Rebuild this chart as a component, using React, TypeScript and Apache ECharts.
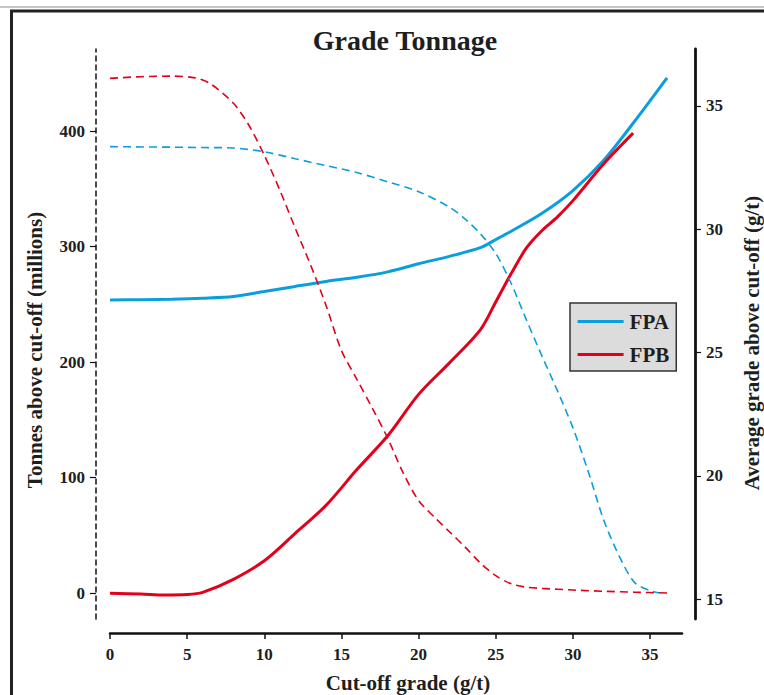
import React, { useEffect, useRef } from "react";
import * as echarts from "echarts";

// Cut-off grade (g/t) -> average grade above cut-off (g/t)
const fpaGradeX = [0, 2, 4, 6, 8, 10, 12, 14, 16, 18, 20, 22, 24, 25, 26, 28, 30, 32, 34, 36.1];
const fpaGrade = [27.13, 27.14, 27.16, 27.2, 27.27, 27.47, 27.68, 27.88, 28.05, 28.27, 28.6, 28.9, 29.25, 29.58, 29.92, 30.65, 31.57, 32.8, 34.38, 36.14];

const fpbGradeX = [0, 2, 3.5, 5, 6, 8, 10, 12, 14, 16, 18, 20, 22, 24, 25, 26, 27, 28, 29, 30, 32, 33.9];
const fpbGrade = [15.23, 15.2, 15.16, 15.18, 15.27, 15.8, 16.55, 17.66, 18.8, 20.25, 21.62, 23.3, 24.58, 25.92, 27.05, 28.2, 29.25, 29.95, 30.5, 31.16, 32.66, 33.9];

// Cut-off grade (g/t) -> tonnes above cut-off (millions)
const fpaTonnesX = [0, 2, 4, 6, 8, 10, 12, 14, 16, 18, 20, 22, 23, 24, 25, 26, 27, 28, 29, 30, 31, 32, 33, 34, 35, 35.6];
const fpaTonnes = [386.5, 386.2, 386, 385.7, 385.3, 382, 376, 370, 364, 356, 347.5, 334, 324, 311, 294, 268, 236, 205, 175, 143, 105, 63, 32, 9, 2, 0];

const fpbTonnesX = [0, 2, 4, 5.5, 6.5, 8, 9, 10, 11, 12, 13, 14, 15, 16, 17, 18, 19, 20, 21, 22, 23, 24, 25, 26, 27, 28, 30, 32, 34, 36.1];
const fpbTonnes = [445.6, 447, 447.5, 446, 441, 424, 405, 379, 349, 316, 284, 249, 210, 185, 160, 134, 104, 80, 66, 53, 40, 26, 15, 8, 5, 4, 2.6, 1.5, 0.7, 0];

const xTicks = [0, 5, 10, 15, 20, 25, 30, 35];
const tonnesTicks = [0, 100, 200, 300, 400];
const gradeTicks = [15, 20, 25, 30, 35];

const BLUE = "#0a9fdc";
const RED = "#e3001b";
const INK = "#1e1e1e";
const FONT = "'Liberation Serif', 'Times New Roman', serif";

const pairs = (xs: number[], ys: number[]) => xs.map((x, i) => [x, ys[i]]);

export default function App() {
  const ref = useRef<HTMLDivElement>(null);

  useEffect(() => {
    if (!ref.current) return;
    const chart = echarts.init(ref.current, null, { renderer: "svg" });
    const labelStyle = {
      fontFamily: FONT,
      fontWeight: "bold" as const,
      fontSize: 17,
      color: INK,
    };
    const option: any = {
      animation: false,
      backgroundColor: "#ffffff",
      grid: { left: 110, right: 82, top: 49, bottom: 76, containLabel: false },
      legend: {
        orient: "vertical",
        left: 570,
        top: 303,
        data: ["FPA", "FPB"],
        itemWidth: 46,
        itemHeight: 21,
        itemGap: 12,
        padding: [8, 7, 6, 6],
        backgroundColor: "#dcdcdc",
        borderColor: "#333333",
        borderWidth: 1.5,
        borderRadius: 0,
        itemStyle: { color: "rgba(0,0,0,0)", borderWidth: 0, opacity: 0 },
        lineStyle: { width: 3.2 },
        textStyle: { fontFamily: FONT, fontWeight: "bold", fontSize: 21, color: INK, padding: [0, 0, 0, 1] },
      },
      xAxis: {
        type: "value",
        min: 0,
        max: 37.07,
        offset: 14,
        axisLine: { show: true, onZero: false, lineStyle: { color: "#111", width: 2.5 } },
        axisTick: { show: true, length: 6, customValues: xTicks, lineStyle: { color: "#111", width: 1.5 } },
        axisLabel: { ...labelStyle, margin: 13, customValues: xTicks },
        splitLine: { show: false },
      },
      yAxis: [
        {
          type: "value",
          position: "left",
          offset: 14,
          min: -22.5,
          max: 471,
          axisLine: { show: true, onZero: false, lineStyle: { color: "#111", width: 1.5, type: [5, 4] } },
          axisTick: { show: true, length: 6, customValues: tonnesTicks, lineStyle: { color: "#111", width: 1.2 } },
          axisLabel: { ...labelStyle, margin: 11, customValues: tonnesTicks },
          splitLine: { show: false },
        },
        {
          type: "value",
          position: "right",
          offset: 13,
          min: 14.19,
          max: 37.31,
          axisLine: { show: true, onZero: false, lineStyle: { color: "#111", width: 2.8 } },
          axisTick: { show: true, length: 6, customValues: gradeTicks, lineStyle: { color: "#111", width: 1.2 } },
          axisLabel: { ...labelStyle, margin: 11, customValues: gradeTicks },
          splitLine: { show: false },
        },
      ],
      series: [
        {
          name: "FPA",
          type: "line",
          yAxisIndex: 1,
          data: pairs(fpaGradeX, fpaGrade),
          symbol: "none",
          smooth: 0.3,
          lineStyle: { color: BLUE, width: 3 },
          itemStyle: { color: BLUE },
        },
        {
          name: "FPB",
          type: "line",
          yAxisIndex: 1,
          data: pairs(fpbGradeX, fpbGrade),
          symbol: "none",
          smooth: 0.3,
          lineStyle: { color: RED, width: 3 },
          itemStyle: { color: RED },
        },
        {
          name: "FPA tonnes",
          type: "line",
          yAxisIndex: 0,
          data: pairs(fpaTonnesX, fpaTonnes),
          symbol: "none",
          smooth: 0.3,
          lineStyle: { color: BLUE, width: 1.6, type: [8, 5] },
          itemStyle: { color: BLUE },
        },
        {
          name: "FPB tonnes",
          type: "line",
          yAxisIndex: 0,
          data: pairs(fpbTonnesX, fpbTonnes),
          symbol: "none",
          smooth: 0.3,
          lineStyle: { color: RED, width: 1.6, type: [8, 5] },
          itemStyle: { color: RED },
        },
      ],
      graphic: [
        { type: "line", shape: { x1: 0, y1: 7, x2: 764, y2: 7 }, style: { stroke: "#c8c8c8", lineWidth: 2 } },
        { type: "line", shape: { x1: 10, y1: 11, x2: 764, y2: 11 }, style: { stroke: "#222", lineWidth: 3 } },
        { type: "line", shape: { x1: 11.5, y1: 10, x2: 11.5, y2: 695 }, style: { stroke: "#222", lineWidth: 3 } },
        {
          type: "text",
          x: 405,
          y: 40,
          style: { text: "Grade Tonnage", textAlign: "center", textVerticalAlign: "middle", font: `bold 28px ${FONT}`, fill: INK },
        },
        {
          type: "text",
          x: 35,
          y: 350,
          rotation: Math.PI / 2,
          style: { text: "Tonnes above cut-off (millions)", textAlign: "center", textVerticalAlign: "middle", font: `bold 21px ${FONT}`, fill: INK },
        },
        {
          type: "text",
          x: 752,
          y: 343,
          rotation: Math.PI / 2,
          style: { text: "Average grade above cut-off (g/t)", textAlign: "center", textVerticalAlign: "middle", font: `bold 21px ${FONT}`, fill: INK },
        },
        {
          type: "text",
          x: 408,
          y: 683,
          style: { text: "Cut-off grade (g/t)", textAlign: "center", textVerticalAlign: "middle", font: `bold 21px ${FONT}`, fill: INK },
        },
      ],
    };
    chart.setOption(option);
    return () => chart.dispose();
  }, []);

  return (
    <div
      ref={ref}
      style={{ position: "fixed", left: 0, top: 0, width: 764, height: 695, background: "#fff" }}
    />
  );
}
